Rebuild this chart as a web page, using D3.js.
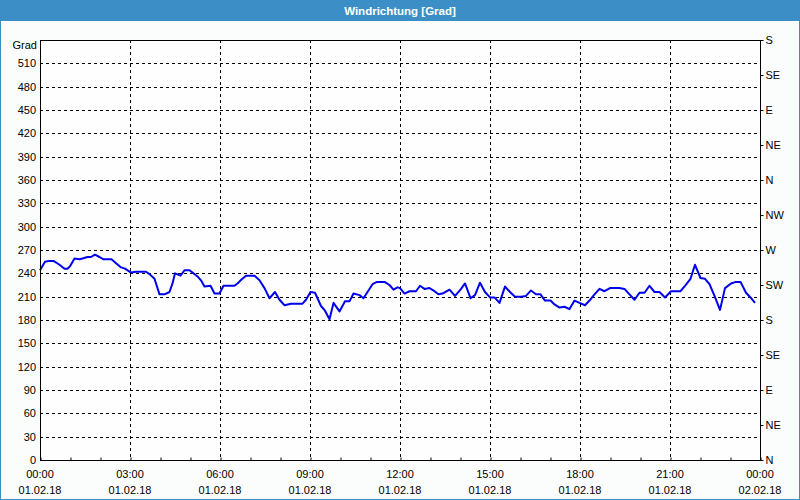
<!DOCTYPE html>
<html>
<head>
<meta charset="utf-8">
<script src="https://cdn.jsdelivr.net/npm/d3@7"></script>
<style>
  html, body { margin: 0; padding: 0; background: #fbfdfc; }
  svg { display: block; }
  text { font-family: "Liberation Sans", Arial, sans-serif; }
</style>
</head>
<body>
<svg id="chart" width="800" height="500"></svg>
<script>
const title = "Windrichtung [Grad]";
const yLabel = "Grad";
const minutes = [0,10,19,27,39,49,55,60,69,79,85,95,102,110,119,127,135,143,152,161,170,182,192,212,219,229,239,249,259,265,270,281,289,299,305,315,322,329,341,349,359,367,389,395,403,412,429,439,449,459,470,479,489,502,515,525,532,541,550,555,562,570,579,587,599,610,619,627,639,647,655,665,674,689,699,707,715,
  720,729,739,752,760,769,779,789,797,805,819,830,841,850,861,870,880,890,900,909,919,930,940,950,962,972,982,992,1001,1010,1021,1029,1039,1049,1059,1069,1079,1090,1099,1109,1119,1129,1140,1159,1169,1179,1189,1199,1209,1219,1229,1239,1250,1262,1281,1290,1301,1310,1321,1330,1339,1349,1360,1370,1382,1392,1401,1412,1421,1430];
const values = [244,255,256,256,251,246,246,249,259,258,259,261,261,264,261,258,258,258,253,248,246,241,242,242,239,233,213,213,216,227,240,237,244,244,241,236,231,223,224,214,214,224,224,227,232,237,237,231,221,208,216,206,199,201,201,201,206,216,215,208,198,192,181,202,191,204,204,214,212,208,216,226,229,229,225,219,222,
  221,214,217,217,224,220,221,217,213,214,219,211,219,227,208,212,228,216,209,209,202,223,216,210,210,211,218,213,213,205,205,200,196,197,194,205,202,199,205,213,220,217,221,221,220,213,206,215,215,224,216,216,209,217,217,224,233,251,234,233,226,211,193,221,227,229,229,215,209,202];
const yTicks = [0,30,60,90,120,150,180,210,240,270,300,330,360,390,420,450,480,510];
const compassTicks = [0,45,90,135,180,225,270,315,360,405,450,495,540];
const compassLabels = ["N","NE","E","SE","S","SW","W","NW","N","NE","E","SE","S"];
const startDate = new Date(2018, 1, 1, 0, 0);
const endDate = new Date(2018, 1, 2, 0, 0);

const svg = d3.select("#chart");
const W = 800, H = 500;
const m = { left: 40, right: 760, top: 40, bottom: 460 };

// window frame & title bar
svg.append("rect").attr("x", 0.5).attr("y", 0.5).attr("width", W - 1).attr("height", H - 1)
  .attr("fill", "#fbfdfc").attr("stroke", "#3c8fc6");
svg.append("rect").attr("x", 0).attr("y", 0).attr("width", W).attr("height", 21).attr("fill", "#3c8fc6");
svg.append("text").attr("x", W / 2).attr("y", 15).attr("text-anchor", "middle")
  .attr("fill", "#ffffff").attr("font-weight", "bold").attr("font-size", 11.5).text(title);

const x = d3.scaleTime().domain([startDate, endDate]).range([m.left, m.right]);
const y = d3.scaleLinear().domain([0, 540]).range([m.bottom, m.top]);

// plot background
svg.append("rect").attr("x", m.left).attr("y", m.top).attr("width", m.right - m.left)
  .attr("height", m.bottom - m.top).attr("fill", "#fdfefd");

// grid
const g = svg.append("g");
yTicks.filter(v => v > 0).forEach(v => {
  g.append("line").attr("x1", m.left).attr("x2", m.right)
    .attr("y1", Math.round(y(v)) + 0.5).attr("y2", Math.round(y(v)) + 0.5)
    .attr("stroke", "#000").attr("stroke-dasharray", "3,3");
});
const majorTimes = d3.timeHour.every(3).range(startDate, d3.timeMinute.offset(endDate, 1));
majorTimes.filter(t => t > startDate && t < endDate).forEach(t => {
  g.append("line").attr("y1", m.top).attr("y2", m.bottom)
    .attr("x1", Math.round(x(t)) + 0.5).attr("x2", Math.round(x(t)) + 0.5)
    .attr("stroke", "#000").attr("stroke-dasharray", "3,3");
});

// data line
const data = minutes.map((mi, i) => ({ t: d3.timeMinute.offset(startDate, mi), v: values[i] }));
svg.append("path").datum(data)
  .attr("fill", "none").attr("stroke", "#0000ee").attr("stroke-width", 2)
  .attr("stroke-linejoin", "round")
  .attr("d", d3.line().x(d => x(d.t)).y(d => y(d.v)));

// frame
svg.append("rect").attr("x", m.left + 0.5).attr("y", m.top + 0.5)
  .attr("width", m.right - m.left).attr("height", m.bottom - m.top)
  .attr("fill", "none").attr("stroke", "#000");

// left axis
const yAxisL = d3.axisLeft(y).tickValues(yTicks).tickSize(0).tickPadding(4);
const gl = svg.append("g").attr("transform", `translate(${m.left},0)`).call(yAxisL);
gl.select(".domain").remove();
gl.selectAll("text").attr("font-size", 11).attr("fill", "#000")
  .attr("font-family", "Liberation Sans, Arial, sans-serif");
svg.append("text").attr("x", 37).attr("y", 49).attr("text-anchor", "end")
  .attr("font-size", 11).attr("fill", "#000").text(yLabel);

// right compass axis
const yAxisR = d3.axisRight(y).tickValues(compassTicks).tickSize(3).tickPadding(2)
  .tickFormat((d, i) => compassLabels[i]);
const gr = svg.append("g").attr("transform", `translate(${m.right + 0.5},0)`).call(yAxisR);
gr.select(".domain").remove();
gr.selectAll("text").attr("font-size", 11).attr("fill", "#000")
  .attr("font-family", "Liberation Sans, Arial, sans-serif");

// bottom axis: hourly inner ticks
const xAxisMinor = d3.axisBottom(x).ticks(d3.timeHour.every(1)).tickSize(-3).tickFormat("");
const gm = svg.append("g").attr("transform", `translate(0.5,${m.bottom + 0.5})`).call(xAxisMinor);
gm.select(".domain").remove();

const fmtT = d3.timeFormat("%H:%M"), fmtD = d3.timeFormat("%d.%m.%y");
const gb = svg.append("g");
majorTimes.forEach(t => {
  gb.append("text").attr("x", x(t)).attr("y", 478).attr("text-anchor", "middle")
    .attr("font-size", 11).attr("fill", "#000").text(fmtT(t));
  gb.append("text").attr("x", x(t)).attr("y", 494).attr("text-anchor", "middle")
    .attr("font-size", 11).attr("fill", "#000").text(fmtD(t));
});
</script>
</body>
</html>
